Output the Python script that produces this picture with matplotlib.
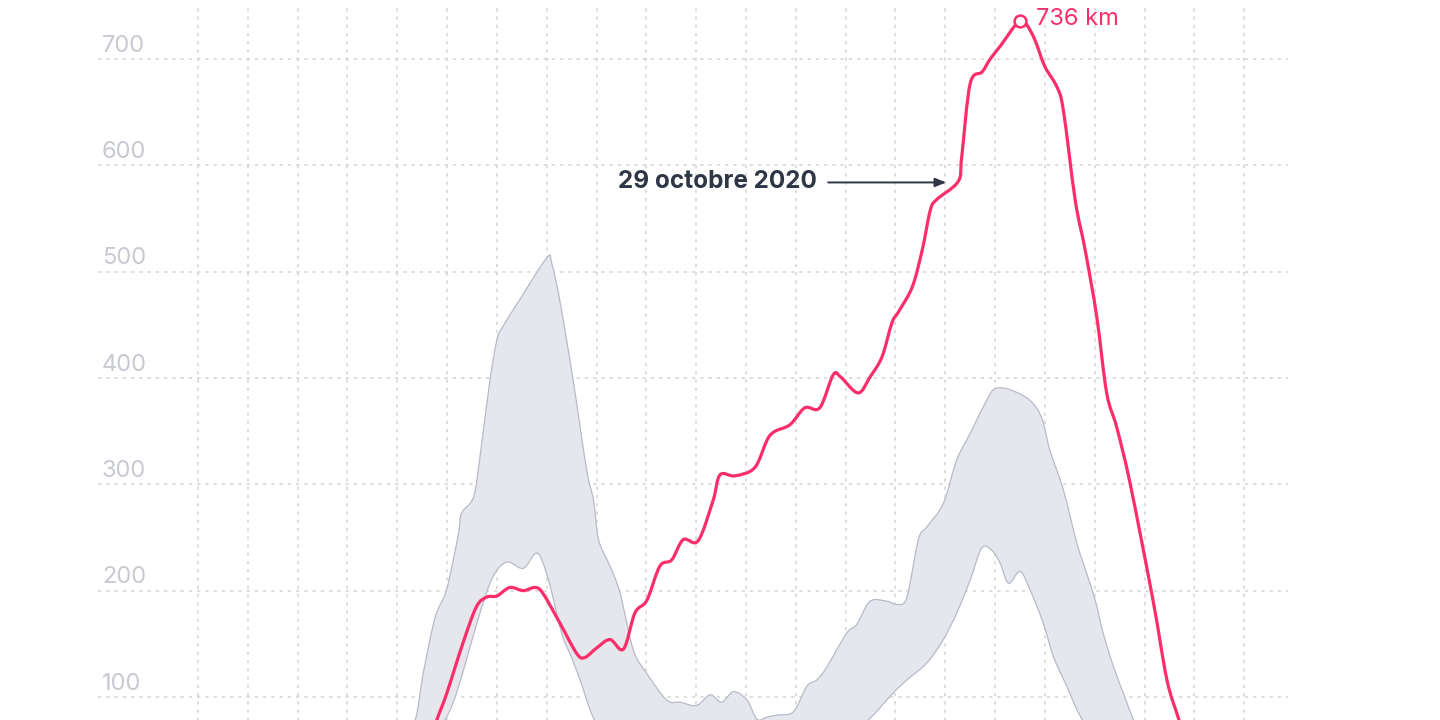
"""Bouchons Ile-de-France, 29 octobre 2020 vs plage habituelle"""
import numpy as np, matplotlib
matplotlib.use('Agg')
import matplotlib.pyplot as plt
from matplotlib.path import Path
from matplotlib.patches import PathPatch
plt.rcParams.update({'font.family': ['Inter', 'DejaVu Sans'], 'font.size': 12})

# heure de la journee -> km de bouchons
red_h = [6.55, 6.79, 6.99, 7.32, 7.59, 7.80, 8.0, 8.26, 8.53, 8.77, 8.93, 9.27, 9.60, 9.76,
         10.0, 10.27, 10.54, 10.77, 11.01, 11.27, 11.51, 11.74, 12.04, 12.34, 12.48, 12.78,
         13.18, 13.48, 13.88, 14.18, 14.48, 14.75, 14.90, 15.25, 15.49, 15.73, 15.93, 16.07,
         16.34, 16.54, 16.70, 16.83, 17.26, 17.33, 17.50, 17.74, 17.90, 18.10, 18.50, 18.64,
         18.80, 19.0, 19.24, 19.37, 19.61, 19.81, 20.04, 20.24, 20.44, 20.71, 21.17, 21.45,
         21.68, 21.9]
red_km = [45, 78, 103, 151, 185, 194, 195, 203, 200, 203, 197, 169, 141, 137,
          146, 154, 145, 179, 191, 223, 229, 248, 247, 285, 309, 308,
          316, 346, 356, 372, 372, 403, 401, 386, 401, 420, 452, 463,
          486, 521, 558, 568, 585, 608, 677, 688, 700, 712, 737, 732,
          718, 693, 674, 652, 567, 520, 458, 386, 354, 301, 191, 116,
          80, 45]

hi_h = [6.0, 6.36, 6.52, 6.76, 6.99, 7.23, 7.29, 7.53, 7.66, 7.86, 8.0, 8.10, 8.46, 9.0,
        9.10, 9.27, 9.53, 9.80, 9.94, 10.04, 10.27, 10.47, 10.74, 11.01, 11.41, 11.68,
        12.01, 12.28, 12.51, 12.75, 13.02, 13.22, 13.42, 13.62, 13.95, 14.22, 14.42, 14.62,
        15.02, 15.22, 15.49, 15.83, 16.03, 16.23, 16.46, 16.63, 16.96, 17.23, 17.50, 17.83,
        18.0, 18.30, 18.70, 18.94, 19.10, 19.37, 19.64, 19.84, 20.01, 20.17, 20.38, 20.58,
        20.78, 21.11]
hi_km = [30, 78, 122, 175, 201, 254, 273, 288, 326, 398, 436, 447, 474, 513,
         508, 471, 398, 314, 285, 248, 223, 198, 144, 122, 97, 95,
         92, 102, 95, 105, 97, 79, 81, 83, 86, 110, 116, 128,
         160, 168, 190, 190, 187, 194, 248, 260, 282, 323, 348, 379,
         390, 389, 379, 362, 332, 295, 245, 216, 191, 160, 128, 103,
         78, 40]

lo_h = [6.0, 6.5, 6.99, 7.19, 7.46, 7.66, 7.86, 8.03, 8.23, 8.53, 8.77, 8.90, 9.07, 9.30,
        9.49, 9.67, 9.94, 10.3, 11.0, 12.0, 13.0, 14.0, 15.0, 15.49, 15.96, 16.23, 16.63,
        16.96, 17.23, 17.50, 17.73, 17.93, 18.10, 18.27, 18.50, 18.70, 18.97, 19.17, 19.44,
        19.71, 20.2, 20.8, 21.11]
lo_km = [10, 40, 81, 104, 147, 179, 207, 221, 227, 221, 235, 229, 204, 160,
         138, 116, 80, 55, 45, 40, 40, 45, 62, 80, 104, 116, 132,
         154, 179, 210, 240, 238, 226, 207, 218, 201, 169, 138, 110,
         82, 45, 25, 20]

y_ticks = [100, 200, 300, 400, 500, 600, 700]
peak_h, peak_km = 18.50, 736

RED = '#FB2D6A'


def smooth(x, y):
    # courbe de Catmull-Rom sous forme de beziers cubiques
    p = np.column_stack([x, y]).astype(float)
    verts, codes = [p[0]], [Path.MOVETO]
    for i in range(len(p) - 1):
        p0, p1, p2, p3 = p[max(i-1, 0)], p[i], p[i+1], p[min(i+2, len(p)-1)]
        verts += [p1 + (p2-p0)/6, p2 - (p3-p1)/6, p2]
        codes += [Path.CURVE4]*3
    return np.array(verts), codes


fig = plt.figure(figsize=(14.4, 7.2), dpi=100, facecolor='white')
# axe volontairement plus bas que la figure (graphique recadre)
ax = fig.add_axes([98.4/1440, -83.25/720, (1288-98.4)/1440, 797.25/720])
ax.set_xlim(0, 23.88); ax.set_ylim(0, 750)
for s in ax.spines.values(): s.set_visible(False)
ax.set_xticks([]); ax.set_yticks([])

for h in range(2, 24):
    ax.axvline(h, color='#D4D4D6', lw=1.1, ls=(0, (2.2, 3.2)), zorder=0)
for v in y_ticks:
    ax.axhline(v, color='#D4D4D6', lw=1.1, ls=(0, (2.2, 3.2)), zorder=0)
    ax.text(0.07, v + 7, str(v), ha='left', va='baseline', fontsize=17, color='#C8CAD1')

vu, cu = smooth(hi_h, hi_km)
vl, cl = smooth(lo_h[::-1], lo_km[::-1])
band = Path(np.vstack([vu, vl, vu[:1]]), cu + [Path.LINETO] + cl[1:] + [Path.CLOSEPOLY])
ax.add_patch(PathPatch(band, facecolor='#E5E7EC', edgecolor='none', zorder=1))
ax.add_patch(PathPatch(Path(vu, cu), fill=False, edgecolor='#B7BBC8', lw=0.9, zorder=2))
ax.add_patch(PathPatch(Path(vl, cl), fill=False, edgecolor='#B7BBC8', lw=0.9, zorder=2))

vr, cr = smooth(red_h, red_km)
ax.add_patch(PathPatch(Path(vr, cr), fill=False, edgecolor=RED, lw=2.3,
                       joinstyle='round', capstyle='round', zorder=3))
ax.plot([peak_h], [peak_km], 'o', ms=8.5, mfc='white', mec=RED, mew=1.8, zorder=4)
ax.text(peak_h + 0.33, peak_km + 2, f'{peak_km} km', ha='left', va='center', fontsize=17,
        color=RED)

ax.annotate('', xy=(17.02, 584), xytext=(14.65, 584),
            arrowprops=dict(arrowstyle='-|>,head_length=0.55,head_width=0.22', color='#2F3645',
                            lw=1.4, shrinkA=0, shrinkB=0))
ax.text(14.43, 585, '29 octobre 2020', ha='right', va='center', fontsize=17.5,
        fontweight='bold', color='#2F3645')

fig.savefig('out.png', dpi=100, facecolor='white')
